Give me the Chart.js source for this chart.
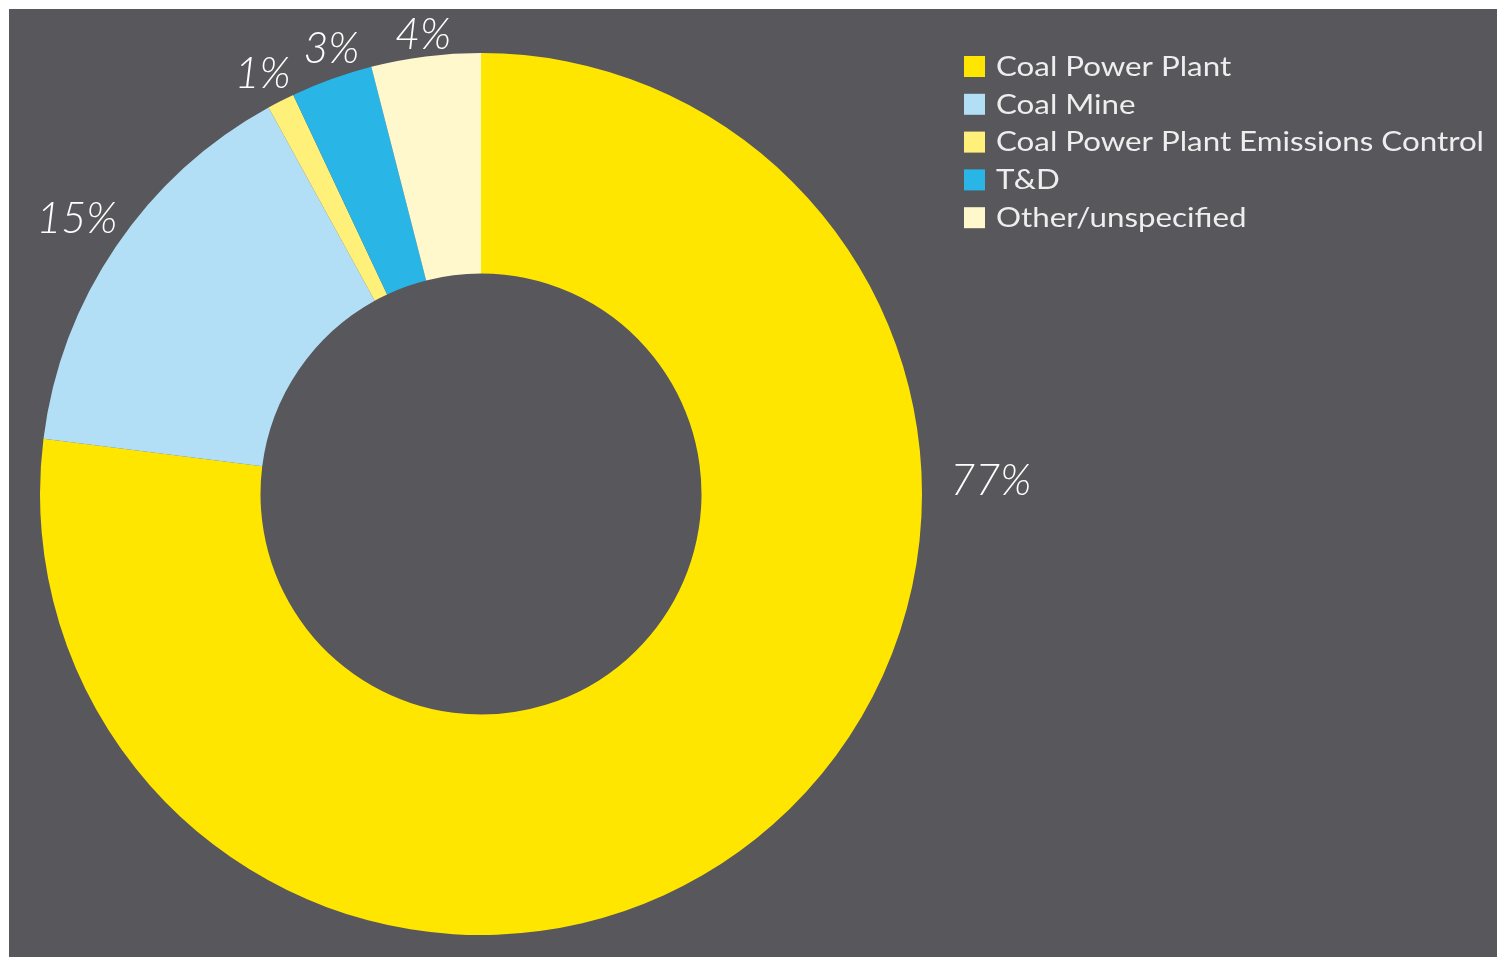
<!DOCTYPE html>
<html>
<head>
<meta charset="utf-8">
<script src="https://cdn.jsdelivr.net/npm/chart.js@4"></script>
<style>
  html, body { margin: 0; padding: 0; background: #ffffff; }
  #wrap { position: absolute; left: 9px; top: 9px; width: 1488px; height: 948px; background: #58575c; }
</style>
</head>
<body>
<div id="wrap"><canvas id="coalChart" width="1488" height="948"></canvas></div>
<script>
const categories = ['Coal Power Plant', 'Coal Mine', 'Coal Power Plant Emissions Control', 'T&D', 'Other/unspecified'];
const shares = [77, 15, 1, 3, 4];
const sliceColors = ['#ffe600', '#b2dff5', '#fff07a', '#29b6e6', '#fff8cc'];
// the big slice's label sits at the right side rather than at its middle
const labelTurn = [-50, 0, -0.5, 1.2, 0];
const labelGap = [28, 4, 3, 2, 0];

const pctLabels = {
    id: 'pctLabels',
    afterDatasetsDraw(chart) {
        const ctx = chart.ctx;
        const meta = chart.getDatasetMeta(0);
        ctx.save();
        ctx.font = 'italic 300 43px Lato';
        ctx.fillStyle = '#ffffff';
        ctx.textAlign = 'center';
        ctx.textBaseline = 'middle';
        meta.data.forEach((arc, i) => {
            const a = (arc.startAngle + arc.endAngle) / 2 + labelTurn[i] * Math.PI / 180;
            const txt = shares[i] + '%';
            const hw = ctx.measureText(txt).width / 2;
            const hh = 18;
            const ext = hw * Math.abs(Math.cos(a)) + hh * Math.abs(Math.sin(a));
            const r = arc.outerRadius + labelGap[i] + ext;
            ctx.fillText(txt, arc.x + Math.cos(a) * r, arc.y + Math.sin(a) * r);
        });
        ctx.restore();
    }
};

const sideLegend = {
    id: 'sideLegend',
    afterDraw(chart) {
        const ctx = chart.ctx;
        ctx.save();
        ctx.font = '27px Lato';
        ctx.textBaseline = 'middle';
        // stretch the text a little so the longest entry spans like the original wide typeface
        const widest = Math.max(...categories.map(c => ctx.measureText(c).width));
        const sx = 488 / widest;
        categories.forEach((name, i) => {
            const y = 57 + i * 37.8;
            ctx.fillStyle = sliceColors[i];
            ctx.fillRect(955, y - 10, 21, 21);
            ctx.save();
            ctx.translate(987, y + 1);
            ctx.scale(sx, 1);
            ctx.fillStyle = '#eeeeee';
            ctx.fillText(name, 0, 0);
            ctx.restore();
        });
        ctx.restore();
    }
};

const ctx = document.getElementById('coalChart').getContext('2d');
const coalChart = new Chart(ctx, {
    type: 'doughnut',
    data: {
        labels: categories,
        datasets: [{
            data: shares,
            backgroundColor: sliceColors,
            borderWidth: 0,
            hoverOffset: 0
        }]
    },
    options: {
        responsive: false,
        animation: false,
        cutout: '50%',
        layout: { padding: { left: 31, right: 575, top: 44, bottom: 22 } },
        plugins: {
            legend: { display: false },
            tooltip: { enabled: false }
        }
    },
    plugins: [pctLabels, sideLegend]
});
</script>
</body>
</html>
